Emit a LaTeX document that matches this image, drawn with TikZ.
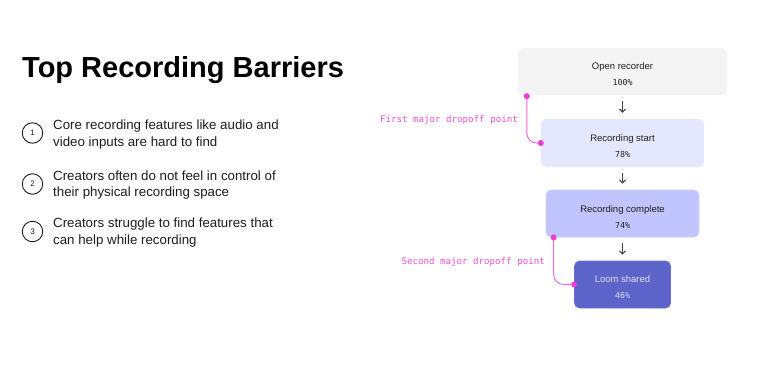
\documentclass[tikz,border=0pt]{standalone}
\usepackage{fontspec}
\setmainfont{Liberation Sans}
\newfontfamily\monofnt{DejaVu Sans Mono}
\usetikzlibrary{arrows.meta}
\definecolor{txtdark}{HTML}{1E1E1E}
\definecolor{boxA}{HTML}{F4F4F4}
\definecolor{boxB}{HTML}{E4E7FE}
\definecolor{boxC}{HTML}{C1C5FD}
\definecolor{boxCb}{HTML}{CDD0FD}
\definecolor{boxD}{HTML}{5C64CA}
\definecolor{boxDb}{HTML}{6A71D2}
\definecolor{loomtxt}{HTML}{DFE2FB}
\definecolor{magline}{HTML}{F46BDB}
\definecolor{magdot}{HTML}{EE3CD2}
\definecolor{magtxt}{HTML}{F050D6}
\definecolor{arrowgray}{HTML}{444444}
\newcommand{\boxtxt}[2]{\rule{0pt}{13pt}#1\\{\monofnt\fontsize{8.3}{16}\selectfont #2}}
\begin{document}
\begin{tikzpicture}[x=1pt,y=-1pt,
  funnelbox/.style={rounded corners=5pt, inner sep=0pt, align=center,
    text=txtdark, font=\fontsize{9.5}{16}\selectfont},
  flowarrow/.style={draw=arrowgray, line width=1.1pt,
    -{Straight Barb[length=3pt,width=6pt]}, shorten <=6pt, shorten >=6pt},
  dropline/.style={draw=magline, line width=1pt, rounded corners=10pt},
  dropdot/.style={circle, fill=magdot, inner sep=0pt, minimum size=6pt},
  droplabel/.style={text=magtxt, font=\monofnt\fontsize{9.15}{11}\selectfont, inner sep=0pt},
  numcircle/.style={circle, draw=txtdark, line width=0.9pt, minimum size=20.5pt, inner sep=0pt,
    font=\fontsize{8}{9}\selectfont, text=txtdark},
  itemtext/.style={anchor=west, align=left, inner sep=0pt, text=txtdark,
    font=\fontsize{13.3}{16.5}\selectfont}
]
\useasboundingbox (0,0) rectangle (778,372);
\fill[white] (0,0) rectangle (778,372);

% Title
\node[anchor=base west, inner sep=0pt, text=black, font=\bfseries\fontsize{29}{32}\selectfont]
  (title) at (22,77.5) {Top Recording Barriers};

% List
\node[numcircle] (n1) at (32.5,133) {1};
\node[itemtext] (t1) at (53,134.5) {Core recording features like audio and\\video inputs are hard to find};
\node[numcircle] (n2) at (32.5,184) {2};
\node[itemtext] (t2) at (53,185) {Creators often do not feel in control of\\their physical recording space};
\node[numcircle] (n3) at (32.5,231.5) {3};
\node[itemtext] (t3) at (53,232.5) {Creators struggle to find features that\\can help while recording};

% Funnel
\node[funnelbox, fill=boxA, minimum width=209pt, minimum height=47pt] (open) at (622.5,71.5)
  {\boxtxt{Open recorder}{100\%}};
\node[funnelbox, fill=boxB, minimum width=163pt, minimum height=48pt] (start) at (622.5,143)
  {\boxtxt{Recording start}{78\%}};
\node[funnelbox, fill=boxC, draw=boxCb, line width=0.8pt, minimum width=153pt, minimum height=47pt] (complete) at (622.5,213.5)
  {\boxtxt{Recording complete}{74\%}};
\node[funnelbox, fill=boxD, draw=boxDb, line width=0.8pt, text=loomtxt, minimum width=96pt, minimum height=47pt] (loom) at (622.5,284.5)
  {\boxtxt{Loom shared}{46\%}};

\draw[flowarrow] (open.south) -- (start.north);
\draw[flowarrow] (start.south) -- (complete.north);
\draw[flowarrow] (complete.south) -- (loom.north);

% Dropoff markers
\coordinate (d1a) at ([xshift=9pt,yshift=-1pt]open.south west);
\coordinate (d1b) at (start.west);
\draw[dropline] (d1a) |- (d1b);
\node[dropdot] (d1adot) at (d1a) {};
\node[dropdot] (d1bdot) at (d1b) {};
\node[droplabel, anchor=east] (lab1) at (518,120) {First major dropoff point};

\coordinate (d2a) at ([xshift=8pt]complete.south west);
\coordinate (d2b) at (loom.west);
\draw[dropline] (d2a) |- (d2b);
\node[dropdot] (d2adot) at (d2a) {};
\node[dropdot] (d2bdot) at (d2b) {};
\node[droplabel, anchor=east] (lab2) at (545,262) {Second major dropoff point};
\end{tikzpicture}
\end{document}
